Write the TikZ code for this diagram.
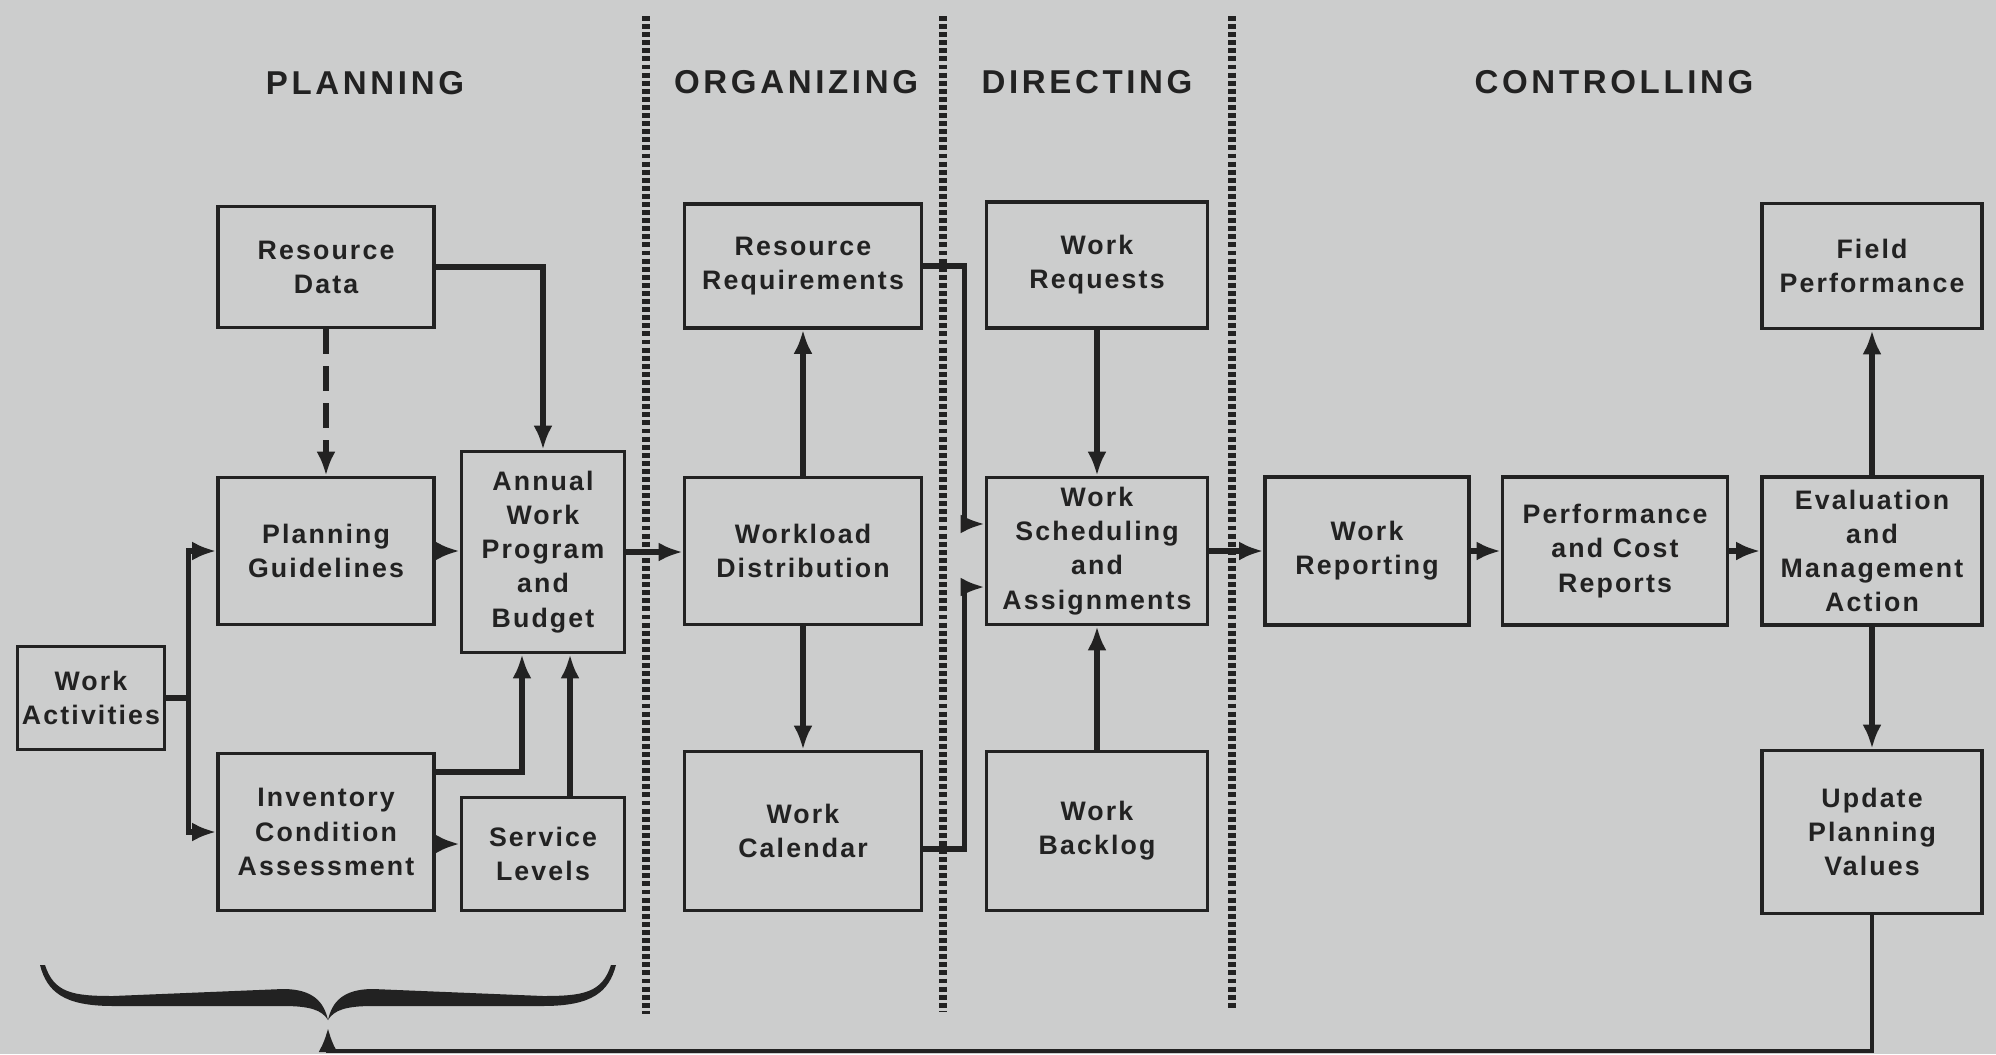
\documentclass[tikz,border=0pt]{standalone}
\usepackage{fontspec}
\usepackage{xcolor}
\usetikzlibrary{arrows.meta}
\newfontfamily\boxfont{Liberation Sans}[LetterSpace=8]
\newfontfamily\headfont{Liberation Sans}[LetterSpace=11]
\definecolor{paper}{RGB}{204,205,205}
\definecolor{ink}{RGB}{34,34,34}

\begin{document}
\begin{tikzpicture}[x=0.01cm,y=-0.01cm,
  box/.style={draw=ink,line width=1pt,fill=paper,align=center,inner sep=0pt,
    text=ink,font=\boxfont\bfseries\fontsize{7.6}{9.7}\selectfont},
  dims/.style 2 args={minimum width=#1cm,minimum height=#2cm},
  link/.style={-{Latex[length=2.4mm,width=1.9mm]},draw=ink,line width=1.5pt},
  phase/.style={text=ink,font=\headfont\bfseries\fontsize{9.4}{11}\selectfont},
  divider/.style={draw=ink,line width=2.3pt,dash pattern=on 1.4pt off 0.9pt}]
\fill[paper] (0,0) rectangle (1996,1054);
\useasboundingbox (0,0) rectangle (1996,1054);

\node[phase] (planning) at (365,83) {PLANNING};
\node[phase] (organizing) at (796,82) {ORGANIZING};
\node[phase] (directing) at (1087,82) {DIRECTING};
\node[phase] (controlling) at (1614,82) {CONTROLLING};

\draw[divider] (646,16) -- (646,1014);
\draw[divider] (943,16) -- (943,1012);
\draw[divider] (1232,16) -- (1232,1010);

\node[box,dims={2.16}{1.21}] (resdata) at (326,267) {Resource\\Data};
\node[box,dims={2.16}{1.47}] (guide) at (326,551) {Planning\\Guidelines};
\node[box,dims={1.63}{2.01}] (budget) at (543,552) {Annual\\Work\\Program\\and\\Budget};
\node[box,dims={1.47}{1.03}] (activities) at (91,698) {Work\\Activities};
\node[box,dims={2.16}{1.57}] (inventory) at (326,832) {Inventory\\Condition\\Assessment};
\node[box,dims={1.63}{1.13}] (service) at (543,854) {Service\\Levels};
\node[box,dims={2.37}{1.24}] (resreq) at (803,266) {Resource\\Requirements};
\node[box,dims={2.37}{1.47}] (workload) at (803,551) {Workload\\Distribution};
\node[box,dims={2.37}{1.59}] (calendar) at (803,831) {Work\\Calendar};
\node[box,dims={2.21}{1.26}] (requests) at (1097,265) {Work\\Requests};
\node[box,dims={2.21}{1.47}] (scheduling) at (1097,551) {Work\\Scheduling\\and\\Assignments};
\node[box,dims={2.21}{1.59}] (backlog) at (1097,831) {Work\\Backlog};
\node[box,dims={2.04}{1.48}] (reporting) at (1367,551) {Work\\Reporting};
\node[box,dims={2.25}{1.48}] (costrep) at (1615,551) {Performance\\and Cost\\Reports};
\node[box,dims={2.20}{1.48}] (evaluation) at (1872,551) {Evaluation\\and\\Management\\Action};
\node[box,dims={2.20}{1.25}] (fieldperf) at (1872,266) {Field\\Performance};
\node[box,dims={2.20}{1.63}] (update) at (1872,832) {Update\\Planning\\Values};

\draw[link,dash pattern=on 7pt off 3.5pt] (resdata) -- (guide);
\draw[link] (resdata.east) -| (budget.north);
\draw[link] (guide.east) -- (guide.east -| budget.west);
\draw[link] (activities.east) -- ++(22,0) |- (guide.west);
\draw[link] (activities.east) -- ++(22,0) |- (inventory.west);
\coordinate (invlow) at ([yshift=-1.2mm]inventory.east);
\coordinate (invhigh) at ([yshift=6mm]inventory.east);
\draw[link] (invlow) -- (invlow -| service.west);
\draw[link] (invhigh) -| ([xshift=-2.1mm]budget.south);
\draw[link] ([xshift=2.7mm]service.north) -- ([xshift=2.7mm]budget.south);
\draw[link] (budget.east) -- (budget.east -| workload.west);
\draw[link] (workload) -- (resreq);
\draw[link] (workload) -- (calendar);
\draw[link] (resreq.east) -- ++(41,0) |- ([yshift=2.7mm]scheduling.west);
\draw[link] ([yshift=-1.8mm]calendar.east) -- ++(41,0) |- ([yshift=-3.6mm]scheduling.west);
\draw[link] (requests) -- (scheduling);
\draw[link] (backlog) -- (scheduling);
\draw[link] (scheduling) -- (reporting);
\draw[link] (reporting) -- (costrep);
\draw[link] (costrep) -- (evaluation);
\draw[link] (evaluation) -- (fieldperf);
\draw[link] (evaluation) -- (update);

\foreach \s in {1,-1}
  \fill[ink,shift={(328,0)},xscale=\s] (-283,965) .. controls (-274,993) and (-255,996) .. (-215,996)
    -- (-45,989) .. controls (-15,989) and (-4,1002) .. (0,1020)
    .. controls (-6,1010) and (-18,1006) .. (-45,1006) -- (-215,1006)
    .. controls (-264,1006) and (-281,992) .. (-288,965) -- cycle;
\coordinate (cusp) at (328,1028);
\draw[link,line width=1.1pt] (update.south) -- ++(0,136) -| (cusp);
\end{tikzpicture}
\end{document}
